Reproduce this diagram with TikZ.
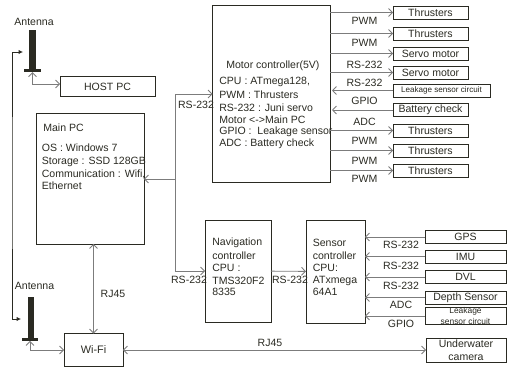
\documentclass[tikz,border=0pt]{standalone}
\usepackage{fontspec}
\setmainfont{Liberation Sans}
\usetikzlibrary{arrows.meta,positioning}
\definecolor{inkdark}{HTML}{2A2A22}
\definecolor{wiregray}{HTML}{7C7C7C}
\tikzset{
  box/.style={draw=inkdark, line width=0.55pt, inner sep=0pt, outer sep=0pt, align=center, text=inkdark, font=\fontsize{6}{7}\selectfont},
  label/.style={inner sep=0pt, text=inkdark, font=\fontsize{6}{7}\selectfont},
  info/.style={label, anchor=west},
  wire/.style={draw=wiregray, line width=0.5pt, >={Straight Barb[length=2.2pt,width=4.5pt]}},
  feed/.style={draw=inkdark, line width=0.45pt, >={Latex[length=2.5pt,width=2.5pt]}},
  mast/.style={fill=inkdark, inner sep=0pt, outer sep=0pt}
}

\begin{document}
\begin{tikzpicture}[x=0.02cm,y=-0.02cm]
  \useasboundingbox (0,0) rectangle (507,368);

  % The main boards
  \node[box, minimum width=2.36cm, minimum height=3.56cm] (motor) at (271.5,94) {};
  \node[box, minimum width=2.16cm, minimum height=2.62cm] (main) at (90,178.5) {};
  \node[box, minimum width=1.9cm, minimum height=0.4cm] (host) at (107.5,86.5) {HOST PC};
  \node[box, minimum width=1.32cm, minimum height=2.04cm] (nav) at (238,271) {};
  \node[box, minimum width=1.18cm, minimum height=2.06cm] (sensor) at (335.5,271.5) {};
  \node[box, minimum width=1.18cm, minimum height=0.66cm, font=\fontsize{6.2}{7}\selectfont] (wifi) at (93.5,350) {Wi-Fi};
  \node[box, minimum width=1.6cm, minimum height=0.48cm, text width=1.5cm, font=\fontsize{6}{7.6}\selectfont] (camera) at (466,350) {Underwater\\camera};

  % Text inside the boards
  \node[info] (mainname) at (43,128) {Main PC};
  \foreach \n/\y/\t in {os/148/OS : Windows 7,disk/162/Storage : SSD 128GB,comm/174/{Communication : Wifi,},eth/186/Ethernet}
    \node[info] (main\n) at (41.5,\y) {\t};
  \node[info] (motorname) at (226,66) {Motor controller(5V)};
  \foreach \n/\y/\t in {cpu/82/{CPU : ATmega128,},pwm/95/PWM : Thrusters,rs/108/RS-232 : Juni servo,link/120/Motor <->Main PC,gpio/132/GPIO :\ \ Leakage sensor,adc/144/ADC : Battery check}
    \node[info] (motor\n) at (219,\y) {\t};
  \foreach \n/\y/\t in {a/243/Navigation,b/256/controller,c/268/CPU :,d/281/TMS320F2,e/292/8335}
    \node[info] (nav\n) at (212,\y) {\t};
  \foreach \n/\y/\t in {a/243/Sensor,b/256/controller,c/268/CPU:,d/281/ATxmega,e/292/64A1}
    \node[info] (sensor\n) at (312.5,\y) {\t};

  % Actuators on the right
  \foreach \n/\y/\t in {a/12.5/Thrusters,b/33.5/Thrusters,c/53.5/Servo motor,d/72.5/Servo motor,g/110/Battery check,h/130.5/Thrusters,i/150.5/Thrusters,j/170.5/Thrusters}
    \node[box, minimum width=1.5cm, minimum height=0.26cm] (act\n) at (430.5,\y) {\t};
  \node[box, minimum width=1.94cm, minimum height=0.26cm, font=\fontsize{4.6}{5}\selectfont] (actf) at (441.5,90.5) {Leakage sensor circuit};
  \foreach \n in {a,b,c,d,h,i,j}
    \draw[wire,->] (motor.east |- act\n.west) -- (act\n.west);
  \foreach \n in {f,g}
    \draw[wire,->] (act\n.west) -- ++(-61,0);
  \foreach \n/\y/\t in {a/21/PWM,b/43/PWM,c/65/RS-232,d/83/RS-232,f/101/GPIO,g/122/ADC,h/141/PWM,i/161/PWM,j/179/PWM}
    \node[label] (actlabel\n) at (364.5,\y) {\t};

  % Sensors on the right
  \foreach \n/\y/\t in {a/237/GPS,b/256.5/IMU,c/277/DVL,d/297.5/Depth Sensor}
    \node[box, minimum width=1.62cm, minimum height=0.26cm] (sens\n) at (465.5,\y) {\t};
  \node[box, minimum width=1.62cm, minimum height=0.32cm, font=\fontsize{4.8}{6.6}\selectfont] (sense) at (465.5,316) {Leakage\\sensor circuit};
  \foreach \n in {a,b,c,d,e}
    \draw[wire,->] (sens\n.west) -- (sens\n.west -| sensor.east);
  \foreach \n/\y/\t in {a/245/RS-232,b/266/RS-232,c/286/RS-232,d/305/ADC,e/324/GPIO}
    \node[label] (senslabel\n) at (401,\y) {\t};

  % RS-232 from the main PC
  \coordinate (split) at (175,179);
  \coordinate (tomotor) at (motor.west |- 0,94);
  \coordinate (tonav) at (nav.west |- 0,271);
  \draw[wire,->] (split) -- (main.east |- split);
  \draw[wire,->] (split) |- (tomotor);
  \draw[wire,->] (split) |- (tonav);
  \draw[wire,->] (nav) -- (sensor);
  \node[label] (rsmotor) at (196,105) {RS-232};
  \node[label] (rsnav) at (189,280) {RS-232};
  \node[label] (rssensor) at (290,280) {RS-232};

  % RJ45 links
  \draw[wire,<->] (main.south -| wifi.north) -- (wifi.north);
  \draw[wire,<->] (wifi.east) -- (camera.west);
  \node[label] (rjmain) at (113,294) {RJ45};
  \node[label] (rjcamera) at (270,343) {RJ45};

  % The two antennas
  \node[mast, minimum width=0.14cm, minimum height=0.8cm] (mastA) at (32.5,50) {};
  \node[mast, minimum width=0.34cm, minimum height=0.07cm] (baseA) at (32.5,70.5) {};
  \node[mast, minimum width=0.12cm, minimum height=0.86cm] (mastB) at (31,318.5) {};
  \node[mast, minimum width=0.34cm, minimum height=0.06cm] (baseB) at (30,339.5) {};
  \node[label] (antA) at (34,22) {Antenna};
  \node[label] (antB) at (34.5,285.5) {Antenna};
  \draw[wire,<->] (baseA.south) |- (host.west |- 0,84);
  \draw[wire,<->] (baseB.south) |- (wifi.west);
  \coordinate (feedA) at (23,52);
  \coordinate (feedB) at (21,319);
  \coordinate (feedbus) at (12,180);
  \draw[feed,<->] (feedA) -| (feedbus) |- (feedB);
\end{tikzpicture}
\end{document}
